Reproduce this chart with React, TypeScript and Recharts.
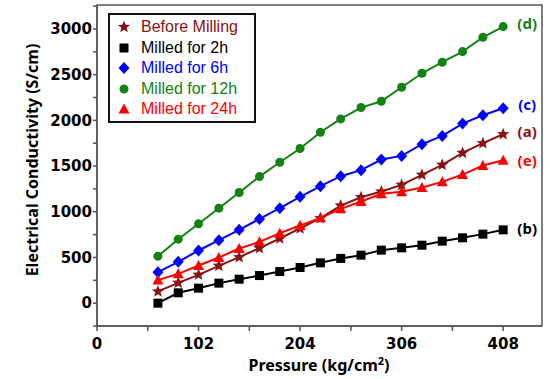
import { LineChart, Line, XAxis, YAxis, ReferenceArea } from "recharts";

const pressure = [61.2, 81.6, 102, 122.4, 142.8, 163.2, 183.6, 204, 224.4, 244.8, 265.2, 285.6, 306, 326.4, 346.8, 367.2, 387.6, 408];
const beforeMilling = [128, 222, 310, 408, 503, 602, 707, 817, 930, 1068, 1159, 1221, 1294, 1404, 1513, 1644, 1750, 1848];
const milled2h = [0, 113, 164, 219, 262, 302, 346, 390, 441, 489, 525, 580, 605, 634, 678, 715, 755, 802];
const milled6h = [339, 452, 576, 689, 802, 922, 1039, 1163, 1280, 1389, 1455, 1571, 1611, 1739, 1830, 1965, 2056, 2133];
const milled12h = [514, 700, 868, 1039, 1210, 1385, 1542, 1692, 1870, 2016, 2140, 2209, 2362, 2515, 2636, 2752, 2909, 3026];
const milled24h = [252, 321, 412, 499, 598, 671, 766, 849, 933, 1032, 1112, 1196, 1218, 1265, 1327, 1407, 1506, 1564];

const xTicks = [0, 51, 102, 153, 204, 255, 306, 357, 408];
const xLabels = [0, 102, 204, 306, 408];
const yTicks = [-250, 0, 250, 500, 750, 1000, 1250, 1500, 1750, 2000, 2250, 2500, 2750, 3000, 3250];
const yLabels = [0, 500, 1000, 1500, 2000, 2500, 3000];

type Shape = "star" | "square" | "diamond" | "circle" | "triangle";

const series: { key: string; name: string; tag: string; color: string; shape: Shape; values: number[] }[] = [
  { key: "a", name: "Before Milling", tag: "(a)", color: "#8a1212", shape: "star", values: beforeMilling },
  { key: "b", name: "Milled for 2h", tag: "(b)", color: "#000000", shape: "square", values: milled2h },
  { key: "c", name: "Milled for 6h", tag: "(c)", color: "#0000ff", shape: "diamond", values: milled6h },
  { key: "d", name: "Milled for 12h", tag: "(d)", color: "#128212", shape: "circle", values: milled12h },
  { key: "e", name: "Milled for 24h", tag: "(e)", color: "#ff0000", shape: "triangle", values: milled24h },
];

const tagOffsetY: Record<string, number> = { a: -3, b: -2, c: -4, d: -4, e: 0 };

const data = pressure.map((p, i) => {
  const row: Record<string, number> = { p };
  series.forEach((s) => (row[s.key] = s.values[i]));
  return row;
});

const tickFont = { fontFamily: "DejaVu Sans", fontWeight: 700, fontSize: 15, fill: "#000" };
const titleFont = "'Noto Sans', 'DejaVu Sans', sans-serif";
const frame = "#555";

function starPath(cx: number, cy: number, ro: number, ri: number) {
  let d = "";
  for (let i = 0; i < 10; i++) {
    const r = i % 2 === 0 ? ro : ri;
    const a = -Math.PI / 2 + (i * Math.PI) / 5;
    d += (i === 0 ? "M" : "L") + (cx + r * Math.cos(a)).toFixed(2) + "," + (cy + r * Math.sin(a)).toFixed(2);
  }
  return d + "Z";
}

function Marker({ cx, cy, shape, color }: { cx: number; cy: number; shape: Shape; color: string }) {
  switch (shape) {
    case "star":
      return <path d={starPath(cx, cy, 6.5, 2.8)} fill={color} />;
    case "square":
      return <rect x={cx - 4.5} y={cy - 4.5} width={9} height={9} fill={color} />;
    case "diamond":
      return <path d={`M${cx},${cy - 6}L${cx + 5.5},${cy}L${cx},${cy + 6}L${cx - 5.5},${cy}Z`} fill={color} />;
    case "circle":
      return <circle cx={cx} cy={cy} r={4.5} fill={color} />;
    default:
      return <path d={`M${cx},${cy - 5.5}L${cx + 5.5},${cy + 4.5}L${cx - 5.5},${cy + 4.5}Z`} fill={color} />;
  }
}

function LegendBox() {
  return (
    <div
      style={{
        position: "absolute",
        left: 108,
        top: 13,
        boxSizing: "border-box",
        width: 148,
        height: 110,
        border: "2px solid #111",
        background: "#fff",
        padding: "2px 0 1px 7px",
        fontFamily: "'Liberation Sans', Arial, sans-serif",
        fontSize: 16,
      }}
    >
      {series.map((s) => (
        <div key={s.key} style={{ height: 20.5, display: "flex", alignItems: "center", color: s.color, whiteSpace: "nowrap" }}>
          <svg width={14} height={14} style={{ marginRight: 10, flexShrink: 0 }}>
            <Marker cx={7} cy={7} shape={s.shape} color={s.color} />
          </svg>
          <span>{s.name}</span>
        </div>
      ))}
    </div>
  );
}

export default function App() {
  const last = pressure.length - 1;
  return (
    <div style={{ position: "absolute", left: 0, top: 0, width: 550, height: 379, background: "#fff" }}>
      <LineChart width={550} height={379} data={data} margin={{ top: 5, right: 8, bottom: 0, left: 0 }}>
        <ReferenceArea x1={0} x2={447} y1={-250} y2={3262} fill="none" stroke={frame} strokeWidth={1.5} fillOpacity={0} ifOverflow="visible" />
        <XAxis
          dataKey="p"
          type="number"
          domain={[0, 447]}
          ticks={xTicks}
          tickFormatter={(v: number) => (xLabels.includes(v) ? String(v) : "")}
          tick={tickFont}
          tickSize={5}
          tickMargin={7}
          height={53}
          stroke={frame}
          strokeWidth={1.5}
          label={{
            content: () => (
              <text x={319} y={365} textAnchor="middle" dominantBaseline="central" fontFamily={titleFont} fontWeight={700} fontSize={16} fill="#000">
                Pressure (kg/cm<tspan dy={-5} fontSize={11}>2</tspan><tspan dy={5}>)</tspan>
              </text>
            ),
          }}
        />
        <YAxis
          type="number"
          domain={[-250, 3262]}
          ticks={yTicks}
          tickFormatter={(v: number) => (yLabels.includes(v) ? String(v) : "")}
          tick={tickFont}
          tickSize={4}
          tickMargin={1}
          width={97}
          stroke={frame}
          strokeWidth={1.5}
          label={{
            content: () => (
              <text x={32} y={160} transform="rotate(-90, 32, 160)" textAnchor="middle" dominantBaseline="central" fontFamily={titleFont} fontWeight={700} fontSize={16} fill="#000">
                Electrical Conductivity (S/cm)
              </text>
            ),
          }}
        />
        {series.map((s) => (
          <Line
            key={s.key}
            dataKey={s.key}
            name={s.name}
            type="linear"
            stroke={s.color}
            strokeWidth={2}
            isAnimationActive={false}
            dot={(props: any) => <Marker key={props.index} cx={props.cx} cy={props.cy} shape={s.shape} color={s.color} />}
            activeDot={false}
            label={(props: any) =>
              props.index === last ? (
                <text
                  key="tag"
                  x={props.x + 24}
                  y={props.y + tagOffsetY[s.key]}
                  textAnchor="middle"
                  dominantBaseline="central"
                  fontFamily={titleFont}
                  fontWeight={700}
                  fontSize={15}
                  fill={s.color}
                >
                  {s.tag}
                </text>
              ) : (
                <g key={props.index} />
              )
            }
          />
        ))}
      </LineChart>
      <LegendBox />
    </div>
  );
}
